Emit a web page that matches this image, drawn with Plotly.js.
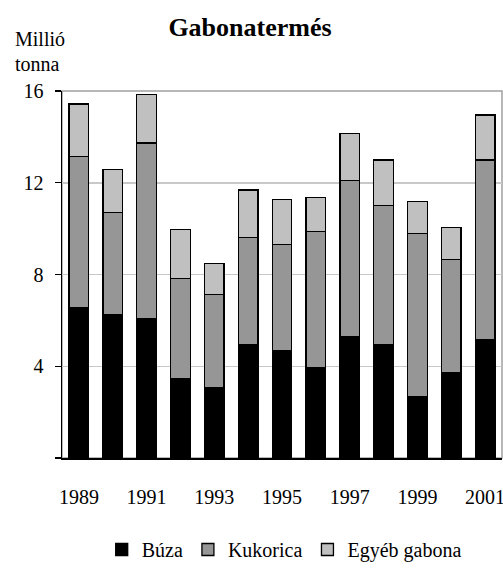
<!DOCTYPE html>
<html>
<head>
<meta charset="utf-8">
<script src="https://cdn.plot.ly/plotly-3.0.1.min.js"></script>
<style>html,body{margin:0;padding:0;background:#fff}#chart{width:503px;height:569px}</style>
</head>
<body>
<div id="chart"></div>
<script>
const years = [1989,1990,1991,1992,1993,1994,1995,1996,1997,1998,1999,2000,2001];
const buza = [6.57,6.26,6.09,3.47,3.07,4.93,4.70,3.96,5.27,4.93,2.66,3.71,5.18];
const kukorica = [6.57,4.44,7.64,4.36,4.05,4.69,4.62,5.93,6.83,6.09,7.14,4.95,7.81];
const egyeb = [2.29,1.88,2.11,2.13,1.37,2.07,1.96,1.46,2.04,1.97,1.38,1.40,1.96];
const seriesNames = ["Búza","Kukorica","Egyéb gabona"];
const yTickVals = [0,4,8,12,16];
const yTickText = ["","4","8","12","16"];
const xTickVals = [1989,1991,1993,1995,1997,1999,2001];

const serif = "Liberation Serif";
const colors = ["#000000","#969696","#c0c0c0"];
const data = [buza,kukorica,egyeb].map((v,i)=>({
  type:"bar", x:years, y:v, name:seriesNames[i],
  marker:{color:colors[i], line:{color:"#000", width:1.3}},
  hoverinfo:"skip"
}));

const layout = {
  width:503, height:569,
  margin:{l:62, r:1, t:91, b:111},
  paper_bgcolor:"#fff", plot_bgcolor:"#fff",
  barmode:"stack", bargap:0.42,
  font:{family:serif, size:20, color:"#000"},
  title:{text:"<b>Gabonatermés</b>", font:{family:serif, size:26, color:"#000"},
         x:250/503, xanchor:"center", y:1-27/569, yanchor:"middle", xref:"container", yref:"container"},
  showlegend:true,
  legend:{orientation:"h", x:0.505, xanchor:"center", yref:"container", y:-0.01, yanchor:"bottom",
          font:{family:serif, size:20, color:"#000"}, traceorder:"normal", itemwidth:30},
  xaxis:{tickmode:"array", tickvals:xTickVals, ticks:"", showgrid:false, zeroline:false,
         showline:true, linecolor:"#000", linewidth:1.5, range:[1988.5,2001.5],
         ticklabeloverflow:"allow",
         ticklabelstandoff:20, tickfont:{family:serif, size:20, color:"#000"}, fixedrange:true},
  yaxis:{tickmode:"array", tickvals:yTickVals, ticktext:yTickText, range:[0,16],
         ticks:"outside", ticklen:6, tickcolor:"#000", tickwidth:1.3,
         showline:true, linecolor:"#000", linewidth:1.5,
         showgrid:true, gridcolor:"#c8c8c8", gridwidth:1.5, zeroline:false,
         ticklabelstandoff:7, tickfont:{family:serif, size:20, color:"#000"}, fixedrange:true},
  shapes:[{type:"rect", xref:"paper", yref:"paper", x0:0, x1:1, y0:0, y1:1,
           line:{color:"#a0a0a0", width:1.5}, layer:"below"}],
  annotations:[
    {text:"Millió", xref:"paper", yref:"paper", x:(13-62)/440, y:(458-39)/367, xanchor:"left", yanchor:"middle", showarrow:false, font:{family:serif,size:20,color:"#000"}},
    {text:"tonna", xref:"paper", yref:"paper", x:(13-62)/440, y:(458-64)/367, xanchor:"left", yanchor:"middle", showarrow:false, font:{family:serif,size:20,color:"#000"}}
  ]
};
Plotly.newPlot("chart", data, layout, {displayModeBar:false, staticPlot:true});
</script>
</body>
</html>
